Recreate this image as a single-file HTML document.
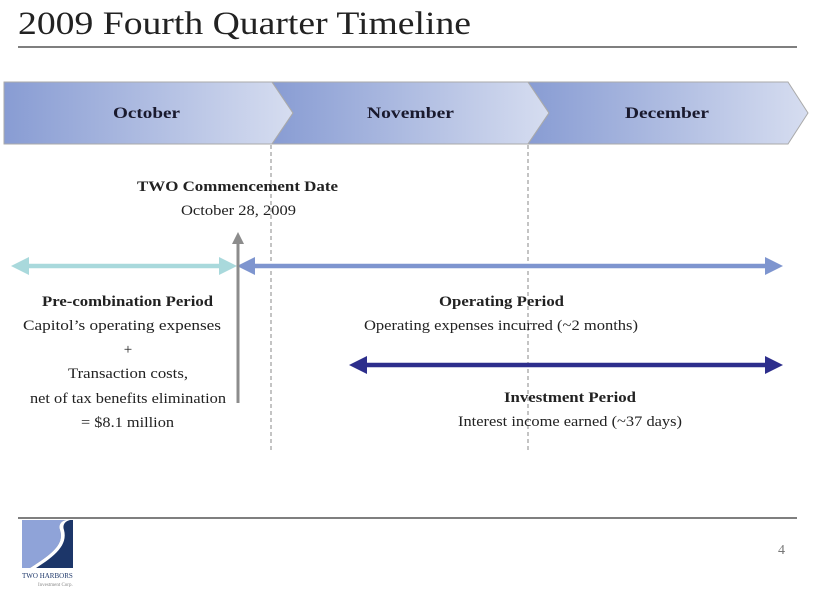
<!DOCTYPE html>
<html><head><style>
body{margin:0;background:#fff;width:815px;height:592px;overflow:hidden}
text{font-family:"Liberation Serif",serif}
</style></head><body>
<svg width="815" height="592" xmlns="http://www.w3.org/2000/svg">
<defs>
<linearGradient id="g" x1="0" x2="1" y1="0" y2="0">
<stop offset="0" stop-color="#889cd3"/><stop offset="1" stop-color="#d6ddf0"/>
</linearGradient>
<marker id="m1" markerWidth="4" markerHeight="4" refX="2" refY="2" orient="auto-start-reverse" markerUnits="strokeWidth"><path d="M0,0L4,2L0,4z" fill="#a9d9dc"/></marker>
<marker id="m2" markerWidth="4" markerHeight="4" refX="2" refY="2" orient="auto-start-reverse" markerUnits="strokeWidth"><path d="M0,0L4,2L0,4z" fill="#7e95cf"/></marker>
<marker id="m3" markerWidth="4" markerHeight="4" refX="2" refY="2" orient="auto-start-reverse" markerUnits="strokeWidth"><path d="M0,0L4,2L0,4z" fill="#2d2e8c"/></marker>
<marker id="m4" markerWidth="4" markerHeight="4" refX="2" refY="2" orient="auto" markerUnits="strokeWidth"><path d="M0,0L4,2L0,4z" fill="#8c8c8c"/></marker>
</defs>
<text x="18" y="34" font-size="33" fill="#222" textLength="453" lengthAdjust="spacingAndGlyphs">2009 Fourth Quarter Timeline</text>
<line x1="18" y1="47" x2="797" y2="47" stroke="#7f7f7f" stroke-width="2"/>
<path d="M4,82H272L293,113L272,144H4Z" fill="url(#g)" stroke="#aaa"/>
<path d="M272,82H528L549,113L528,144H272L293,113Z" fill="url(#g)" stroke="#aaa"/>
<path d="M528,82H788L808,113L788,144H528L549,113Z" fill="url(#g)" stroke="#aaa"/>
<g font-size="16" font-weight="bold" fill="#1a1a2e" lengthAdjust="spacingAndGlyphs">
<text x="113" y="118" textLength="67" lengthAdjust="spacingAndGlyphs">October</text>
<text x="367" y="118" textLength="87" lengthAdjust="spacingAndGlyphs">November</text>
<text x="625" y="118" textLength="84" lengthAdjust="spacingAndGlyphs">December</text>
</g>
<line x1="271" y1="145" x2="271" y2="452" stroke="#888" stroke-dasharray="4,3"/>
<line x1="528" y1="145" x2="528" y2="452" stroke="#888" stroke-dasharray="4,3"/>
<g font-size="15" fill="#222">
<text x="137" y="191" font-weight="bold" textLength="201" lengthAdjust="spacingAndGlyphs">TWO Commencement Date</text>
<text x="181" y="215" textLength="115" lengthAdjust="spacingAndGlyphs">October 28, 2009</text>
<text x="42" y="306" font-weight="bold" textLength="171" lengthAdjust="spacingAndGlyphs">Pre-combination Period</text>
<text x="23" y="330" textLength="198" lengthAdjust="spacingAndGlyphs">Capitol’s operating expenses</text>
<text x="128" y="354" text-anchor="middle">+</text>
<text x="68" y="378" textLength="120" lengthAdjust="spacingAndGlyphs">Transaction costs,</text>
<text x="30" y="403" textLength="196" lengthAdjust="spacingAndGlyphs">net of tax benefits elimination</text>
<text x="81" y="427" textLength="93" lengthAdjust="spacingAndGlyphs">= $8.1 million</text>
<text x="439" y="306" font-weight="bold" textLength="125" lengthAdjust="spacingAndGlyphs">Operating Period</text>
<text x="364" y="330" textLength="274" lengthAdjust="spacingAndGlyphs">Operating expenses incurred (~2 months)</text>
<text x="504" y="402" font-weight="bold" textLength="132" lengthAdjust="spacingAndGlyphs">Investment Period</text>
<text x="458" y="426" textLength="224" lengthAdjust="spacingAndGlyphs">Interest income earned (~37 days)</text>
</g>
<line x1="20" y1="266" x2="228" y2="266" stroke="#a9d9dc" stroke-width="4.5" marker-start="url(#m1)" marker-end="url(#m1)"/>
<line x1="246" y1="266" x2="774" y2="266" stroke="#7e95cf" stroke-width="4.5" marker-start="url(#m2)" marker-end="url(#m2)"/>
<line x1="358" y1="365" x2="774" y2="365" stroke="#2d2e8c" stroke-width="4.5" marker-start="url(#m3)" marker-end="url(#m3)"/>
<line x1="238" y1="403" x2="238" y2="238" stroke="#8c8c8c" stroke-width="3" marker-end="url(#m4)"/>
<line x1="18" y1="518" x2="797" y2="518" stroke="#7f7f7f" stroke-width="2"/>
<text x="785" y="554" font-size="14" fill="#777" text-anchor="end">4</text>
<rect x="22" y="520" width="51" height="48" fill="#8fa3d8"/>
<path d="M73,520V568H30C50,555 65,545 60,530C58,524 62,521 66,520Z" fill="#1c3669"/>
<path d="M66,520C62,521 58,524 60,530C65,545 50,555 30,568H36C55,556 68,545 64,530C62,524 66,521 70,520Z" fill="#fff"/>
<text x="22" y="578" font-size="7" font-family="Liberation Sans,sans-serif" fill="#1c3669">TWO HARBORS</text>
<text x="38" y="586" font-size="5" font-family="Liberation Sans,sans-serif" fill="#888">Investment Corp.</text>
</svg>
</body></html>
